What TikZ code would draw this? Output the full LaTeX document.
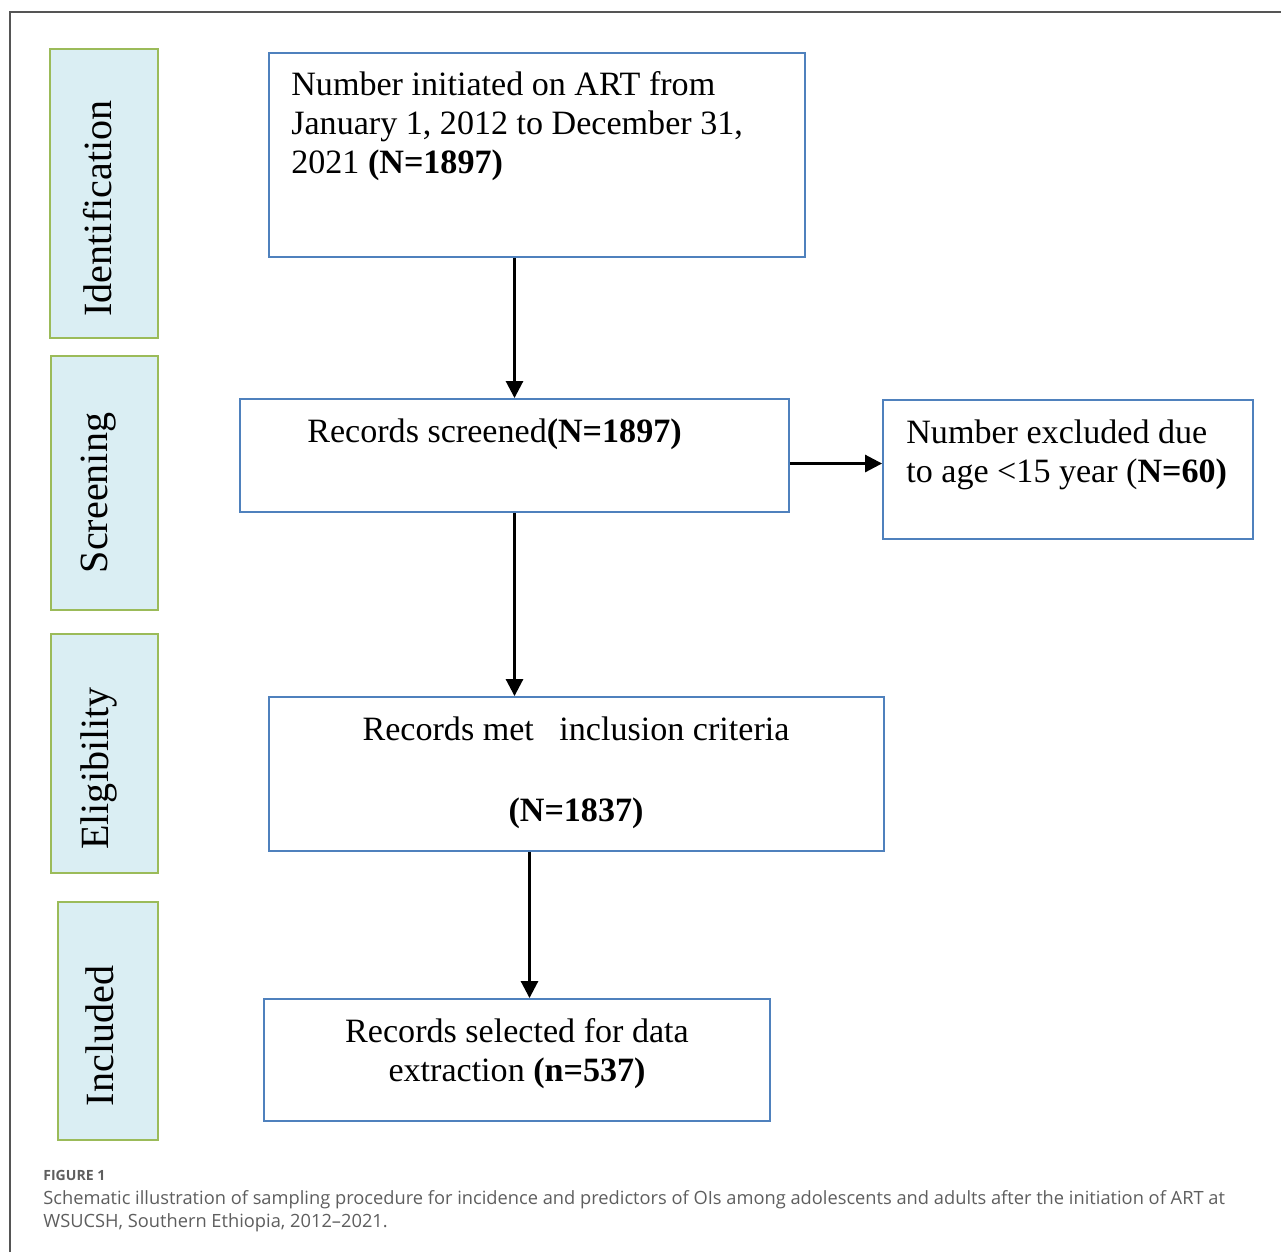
\documentclass[tikz,border=0pt]{standalone}
\usepackage{fontspec}
\setmainfont{Liberation Serif}
\newfontfamily\capfont{Open Sans}
\usetikzlibrary{positioning, arrows.meta}
\definecolor{bBOX}    {HTML}{4F81BD}
\definecolor{bSTAGE}  {HTML}{9BBB59}
\definecolor{clSTAGE} {HTML}{DAEEF3}
\definecolor{capgray} {HTML}{5E5E5E}
\definecolor{framegray}{HTML}{555555}

\begin{document}
\begin{tikzpicture}[
    x=0.02cm, y=-0.02cm,
    every node/.style={font=\fontsize{19.4}{22.2}\selectfont, text=black},
    box/.style={
        draw=bBOX, line width=1.1pt, inner sep=0pt
    },
    stage/.style={
        draw=bSTAGE, fill=clSTAGE, line width=1.5pt, inner sep=0pt
    },
    stagelabel/.style={
        rotate=90, inner sep=0pt,
        font=\fontsize{22.8}{26}\selectfont
    },
    boxtext/.style={inner sep=0pt, anchor=base west, align=left},
    boxtextc/.style={inner sep=0pt, anchor=base, align=center},
    arrow/.style={-{Triangle[length=0.34cm, width=0.34cm]}, line width=1.6pt},
    caption/.style={
        inner sep=0pt, anchor=base west, align=left, text=capgray,
        font=\capfont\fontsize{10.4}{13}\selectfont
    }
]

\useasboundingbox (0,0) rectangle (1281,1252);

% ── FRAME ──────────────────────────────────────────────────────
\draw[framegray, line width=1pt] (10,1252) -- (10,12) -- (1281,12);

% ── STAGES ─────────────────────────────────────────────────────
\node[stage, minimum width=2.16cm, minimum height=5.78cm] (ident) at (104,193.5) {};
\node[stage, minimum width=2.14cm, minimum height=5.08cm] (screening) at (104.5,483) {};
\node[stage, minimum width=2.14cm, minimum height=4.78cm] (elig) at (104.5,753.5) {};
\node[stage, minimum width=2.00cm, minimum height=4.76cm] (included) at (108,1021) {};

\node[stagelabel] at ([shift={(-6,15)}]ident.center) {Identification};
\node[stagelabel] at ([shift={(-6,10)}]screening.center) {Screening};
\node[stagelabel] at ([shift={(-6,15)}]elig.center) {Eligibility};
\node[stagelabel] at ([shift={(-8,15)}]included.center) {Included};

% ── BOXES ──────────────────────────────────────────────────────
% (base anchor = baseline of the last line)
\node[box, minimum width=10.72cm, minimum height=4.08cm] (art) at (537,155) {};
\node[boxtext] at (291,173)
    {Number initiated on ART from\\
     January 1, 2012 to December 31,\\
     2021 \textbf{(N=1897)}};

\node[box, minimum width=10.98cm, minimum height=2.26cm] (screen) at (514.5,455.5) {};
\node[boxtext] at (307,442) {Records screened\textbf{(N=1897)}};

\node[box, minimum width=7.4cm, minimum height=2.78cm] (excl) at (1068,469.5) {};
\node[boxtext] at (906,482)
    {Number excluded due\\
     to age <15 year (\textbf{N=60)}};

\node[box, minimum width=12.3cm, minimum height=3.08cm] (incl) at (576.5,774) {};
\node[boxtextc] at (576,821)
    {Records met~~~inclusion criteria\\[0.84cm]
     \textbf{(N=1837)}};

\node[box, minimum width=10.12cm, minimum height=2.44cm] (sel) at (517,1060) {};
\node[boxtextc] at (517,1081)
    {Records selected for data\\
     extraction \textbf{(n=537)}};

% ── ARROWS ─────────────────────────────────────────────────────
\draw[arrow] (art.south -| screen.north) -- (screen.north);
\draw[arrow] (screen.south) -- (screen.south |- incl.north);
\draw[arrow] ([shift={(-47,0)}]incl.south) -- ([shift={(12.5,0)}]sel.north);
\draw[arrow] ([shift={(0,8)}]screen.east) -- ([shift={(0,-6)}]excl.west);

% ── CAPTION ────────────────────────────────────────────────────
\node[caption, font=\capfont\bfseries\fontsize{8}{10}\selectfont] (figlabel) at (43,1180) {FIGURE 1};
\node[caption] (captext) at (43,1227)
    {Schematic illustration of sampling procedure for incidence and predictors of OIs among adolescents and adults after the initiation of ART at\\
     WSUCSH, Southern Ethiopia, 2012–2021.};

\end{tikzpicture}
\end{document}
